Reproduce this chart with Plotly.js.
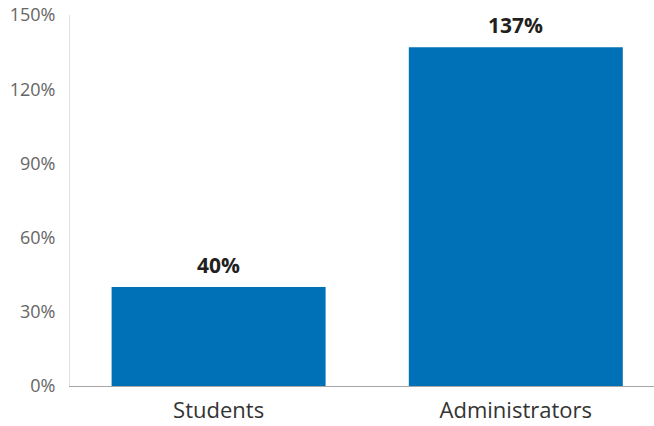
<!DOCTYPE html>
<html>
<head>
<meta charset="utf-8">
<script src="https://cdn.plot.ly/plotly-3.0.1.min.js"></script>
<style>html,body{margin:0;padding:0;background:#fff;}#chart{width:654px;height:426px;}</style>
</head>
<body>
<div id="chart"></div>
<script>
const categories = ["Students", "Administrators"];
const values = [40, 137];
const labels = ["40%", "137%"];
const yTicks = [0, 30, 60, 90, 120, 150];
const yTickText = ["0%", "30%", "60%", "90%", "120%", "150%"];

const trace = {
  type: "bar",
  x: categories,
  y: values,
  marker: { color: "#0071b6" },
  width: 0.72,
  hoverinfo: "skip"
};

const annotations = categories.map((c, i) => ({
  x: c, y: values[i], xref: "x", yref: "y",
  text: "<b>" + labels[i] + "</b>",
  showarrow: false, yanchor: "bottom", yshift: 6,
  font: { family: "Open Sans", size: 21, color: "#231f20" }
}));

const layout = {
  width: 654, height: 426,
  margin: { l: 70, r: 0, t: 15, b: 40 },
  paper_bgcolor: "#fff", plot_bgcolor: "#fff",
  showlegend: false,
  xaxis: {
    type: "category",
    range: [-0.5, 1.465],
    showline: true, linecolor: "#a6a6a6", linewidth: 1,
    showgrid: false, zeroline: false,
    ticks: "outside", ticklen: 5, tickcolor: "rgba(0,0,0,0)",
    tickfont: { family: "Open Sans", size: 22, color: "#333" }
  },
  yaxis: {
    range: [0, 150],
    tickvals: yTicks, ticktext: yTickText,
    showline: true, linecolor: "#e0e0e0", linewidth: 1,
    showgrid: false, zeroline: false,
    ticks: "outside", ticklen: 10, tickcolor: "rgba(0,0,0,0)",
    tickfont: { family: "Open Sans", size: 18, color: "#666" }
  },
  annotations: annotations
};

Plotly.newPlot("chart", [trace], layout, { displayModeBar: false, staticPlot: true });
</script>
</body>
</html>
